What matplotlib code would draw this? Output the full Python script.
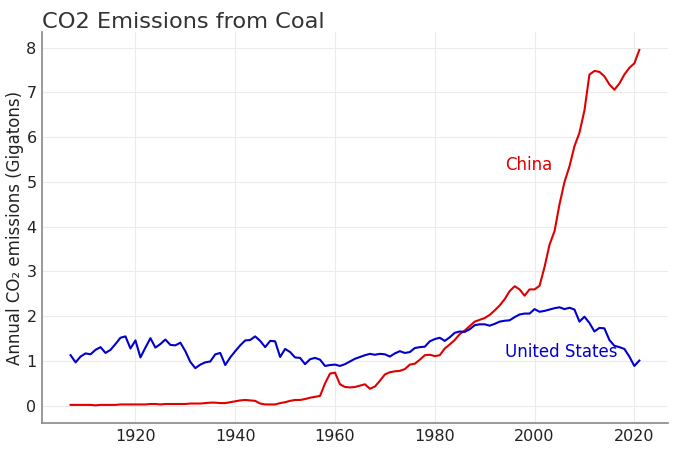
import numpy as np
from matplotlib import pyplot as plt

years = np.arange(1907, 2022)

us_coal = [
    1.13, 0.97, 1.10, 1.17, 1.15, 1.25, 1.31, 1.18, 1.25, 1.38,  # 1907-1916
    1.52, 1.55, 1.28, 1.46, 1.08, 1.30, 1.51, 1.30, 1.38, 1.48,  # 1917-1926
    1.36, 1.35, 1.41, 1.22, 0.98, 0.84, 0.92, 0.97, 0.99, 1.15,  # 1927-1936
    1.18, 0.91, 1.08, 1.22, 1.35, 1.46, 1.47, 1.55, 1.45, 1.31,  # 1937-1946
    1.45, 1.44, 1.09, 1.27, 1.20, 1.08, 1.07, 0.93, 1.04, 1.07,  # 1947-1956
    1.03, 0.89, 0.91, 0.92, 0.89, 0.93, 0.99, 1.05, 1.09, 1.13,  # 1957-1966
    1.16, 1.14, 1.16, 1.15, 1.10, 1.17, 1.22, 1.18, 1.20, 1.29,  # 1967-1976
    1.31, 1.32, 1.44, 1.49, 1.52, 1.45, 1.53, 1.63, 1.66, 1.65,  # 1977-1986
    1.71, 1.80, 1.82, 1.82, 1.79, 1.83, 1.88, 1.90, 1.91, 1.98,  # 1987-1996
    2.04, 2.06, 2.06, 2.16, 2.10, 2.12, 2.15, 2.18, 2.20, 2.16,  # 1997-2006
    2.19, 2.15, 1.88, 1.99, 1.85, 1.66, 1.74, 1.73, 1.47, 1.34,  # 2007-2016
    1.31, 1.27, 1.10, 0.89, 1.01,                                # 2017-2021
]

china_coal = [
    0.02, 0.02, 0.02, 0.02, 0.02, 0.01, 0.02, 0.02, 0.02, 0.02,  # 1907-1916
    0.03, 0.03, 0.03, 0.03, 0.03, 0.03, 0.04, 0.04, 0.03, 0.04,  # 1917-1926
    0.04, 0.04, 0.04, 0.04, 0.05, 0.05, 0.05, 0.06, 0.07, 0.07,  # 1927-1936
    0.06, 0.06, 0.08, 0.10, 0.12, 0.13, 0.12, 0.11, 0.05, 0.03,  # 1937-1946
    0.03, 0.03, 0.06, 0.08, 0.11, 0.13, 0.13, 0.15, 0.18, 0.20,  # 1947-1956
    0.22, 0.50, 0.72, 0.74, 0.48, 0.42, 0.41, 0.42, 0.45, 0.48,  # 1957-1966
    0.38, 0.43, 0.56, 0.70, 0.75, 0.77, 0.78, 0.82, 0.92, 0.94,  # 1967-1976
    1.03, 1.13, 1.14, 1.11, 1.13, 1.28, 1.37, 1.47, 1.60, 1.68,  # 1977-1986
    1.78, 1.88, 1.92, 1.96, 2.03, 2.13, 2.24, 2.38, 2.56, 2.67,  # 1987-1996
    2.60, 2.46, 2.60, 2.60, 2.68, 3.10, 3.60, 3.90, 4.50, 5.00,  # 1997-2006
    5.35, 5.80, 6.10, 6.60, 7.40, 7.48, 7.46, 7.36, 7.18, 7.06,  # 2007-2016
    7.20, 7.40, 7.55, 7.65, 7.95,                                # 2017-2021
]

fig = plt.figure(figsize=(6.8, 4.53), dpi=100)
ax = fig.add_axes([0.062, 0.066, 0.92, 0.863])

ax.plot(years, china_coal, color='#e00000', lw=1.5)
ax.plot(years, us_coal, color='#0000cc', lw=1.5)

ax.text(1994, 5.38, 'China', color='#e00000', fontsize=12, va='center')
ax.text(1994, 1.2, 'United States', color='#0000cc', fontsize=12, va='center')

ax.set_title('CO2 Emissions from Coal', loc='left', fontsize=16.2, color='#333333', pad=2)
ax.set_ylabel('Annual CO\u2082 emissions (Gigatons)', fontsize=12, color='#222222', labelpad=2)

ax.set_yticks(range(0, 9))
ax.set_xticks([1920, 1940, 1960, 1980, 2000, 2020])
ax.tick_params(length=0, labelsize=11.5, labelcolor='#222222', pad=4)
ax.grid(color='#ebebeb', lw=0.8)
ax.set_axisbelow(True)
for s in ['top', 'right']:
    ax.spines[s].set_visible(False)
for s in ['left', 'bottom']:
    ax.spines[s].set_color('#888888')
    ax.spines[s].set_linewidth(1.2)

fig.savefig('out.png')
